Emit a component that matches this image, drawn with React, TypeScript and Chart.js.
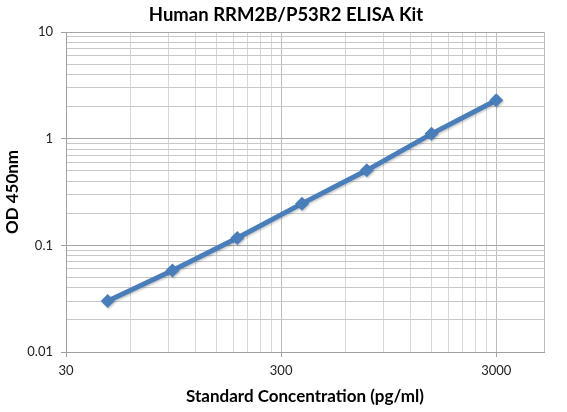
import { useEffect, useRef } from "react";
import { Chart, registerables } from "chart.js";

Chart.register(...registerables);

// standard curve
const concentrations = [46.875, 93.75, 187.5, 375, 750, 1500, 3000];
const odValues = [0.03, 0.058, 0.117, 0.246, 0.505, 1.11, 2.29];

// axis ticks (Excel style log axes)
const xMajorTicks = [30, 300, 3000];
const xTickLabels = ["30", "300", "3000"];
const xMax = 5000;
const yMajorTicks = [0.01, 0.1, 1, 10];
const yTickLabels = ["0.01", "0.1", "1", "10"];
const minorSteps = [2, 3, 4, 5, 6, 7, 8, 9];

const chartTitle = "Human RRM2B/P53R2 ELISA Kit";

const BLUE = "#4a7ebb";
const FONT = "Lato, 'Open Sans', sans-serif";

function gridTicks(majors: number[], last: number) {
  const ticks: { value: number; major: boolean }[] = [];
  majors.forEach((m, i) => {
    ticks.push({ value: m, major: true });
    if (i < majors.length - 1) {
      minorSteps.forEach((s) => {
        if (m * s <= last) ticks.push({ value: m * s, major: false });
      });
    }
  });
  if (last > majors[majors.length - 1]) ticks.push({ value: last, major: false });
  return ticks;
}

const shadowPlugin = {
  id: "markerShadow",
  beforeDatasetsDraw(chart: Chart) {
    const c = chart.ctx;
    c.save();
    c.shadowColor = "rgba(0,0,0,0.2)";
    c.shadowBlur = 2;
    c.shadowOffsetX = 1;
    c.shadowOffsetY = 1.5;
  },
  afterDatasetsDraw(chart: Chart) {
    chart.ctx.restore();
  },
};

// the chart title sits centred on the whole picture, not on the plot
const titlePlugin = {
  id: "pageTitle",
  afterDraw(chart: Chart) {
    const c = chart.ctx;
    c.save();
    c.font = `bold 18.5px ${FONT}`;
    c.fillStyle = "#000";
    c.textAlign = "center";
    c.textBaseline = "middle";
    c.fillText(chartTitle, 286, 15);
    c.restore();
  },
};

export default function App() {
  const canvasRef = useRef<HTMLCanvasElement>(null);
  const chartRef = useRef<Chart | null>(null);

  useEffect(() => {
    document.body.style.margin = "0";
    if (!canvasRef.current) return;
    if (chartRef.current) chartRef.current.destroy();

    chartRef.current = new Chart(canvasRef.current, {
      type: "line",
      data: {
        datasets: [
          {
            data: concentrations.map((x, i) => ({ x, y: odValues[i] })),
            borderColor: BLUE,
            backgroundColor: BLUE,
            borderWidth: 5,
            pointStyle: "rectRot",
            pointRadius: 7,
            pointBorderWidth: 0,
            pointBackgroundColor: BLUE,
            tension: 0,
          },
        ],
      },
      options: {
        animation: false,
        responsive: true,
        maintainAspectRatio: false,
        layout: { padding: { left: 0, right: 23, top: 32, bottom: 0 } },
        plugins: {
          legend: { display: false },
          tooltip: { enabled: false },
          title: { display: false },
        },
        scales: {
          x: {
            type: "logarithmic",
            min: 30,
            max: xMax,
            afterBuildTicks: (scale: any) => {
              scale.ticks = gridTicks(xMajorTicks, xMax);
            },
            afterFit: (scale: any) => {
              scale.height = 60;
            },
            ticks: {
              autoSkip: false,
              maxRotation: 0,
              padding: 6,
              color: "#222",
              font: { family: FONT, size: 13 },
              callback: (value: any) => {
                const i = xMajorTicks.indexOf(value);
                return i >= 0 ? xTickLabels[i] : "";
              },
            },
            grid: {
              color: (ctx: any) =>
                ctx.tick && (ctx.tick.major || ctx.tick.value === xMax) ? "#bdbdbd" : "#d6d6d6",
              tickColor: (ctx: any) => (ctx.tick && ctx.tick.major ? "#a0a0a0" : "transparent"),
              tickLength: 5,
              lineWidth: 1,
            },
            border: { color: "#a0a0a0" },
            title: {
              display: true,
              text: "Standard Concentration (pg/ml)",
              color: "#000",
              font: { family: FONT, size: 17, weight: "bold" },
              padding: { top: 0, bottom: 5 },
            },
          },
          y: {
            type: "logarithmic",
            min: 0.01,
            max: 10,
            afterBuildTicks: (scale: any) => {
              scale.ticks = gridTicks(yMajorTicks, 10);
            },
            afterFit: (scale: any) => {
              scale.width = 66;
            },
            ticks: {
              autoSkip: false,
              padding: 8,
              color: "#222",
              font: { family: FONT, size: 13 },
              callback: (value: any) => {
                const i = yMajorTicks.indexOf(value);
                return i >= 0 ? yTickLabels[i] : "";
              },
            },
            grid: {
              color: (ctx: any) => (ctx.tick && ctx.tick.major ? "#a6a6a6" : "#c8c8c8"),
              tickColor: (ctx: any) => (ctx.tick && ctx.tick.major ? "#a0a0a0" : "transparent"),
              tickLength: 5,
              lineWidth: 1,
            },
            border: { color: "#a0a0a0" },
            title: {
              display: true,
              text: "OD 450nm",
              color: "#000",
              font: { family: FONT, size: 17, weight: "bold" },
              padding: { top: 2, bottom: 0 },
            },
          },
        },
      },
      plugins: [shadowPlugin, titlePlugin],
    });

    return () => {
      if (chartRef.current) {
        chartRef.current.destroy();
        chartRef.current = null;
      }
    };
  }, []);

  return (
    <div style={{ width: 567, height: 412, position: "relative", background: "#fff" }}>
      <canvas ref={canvasRef} />
    </div>
  );
}
